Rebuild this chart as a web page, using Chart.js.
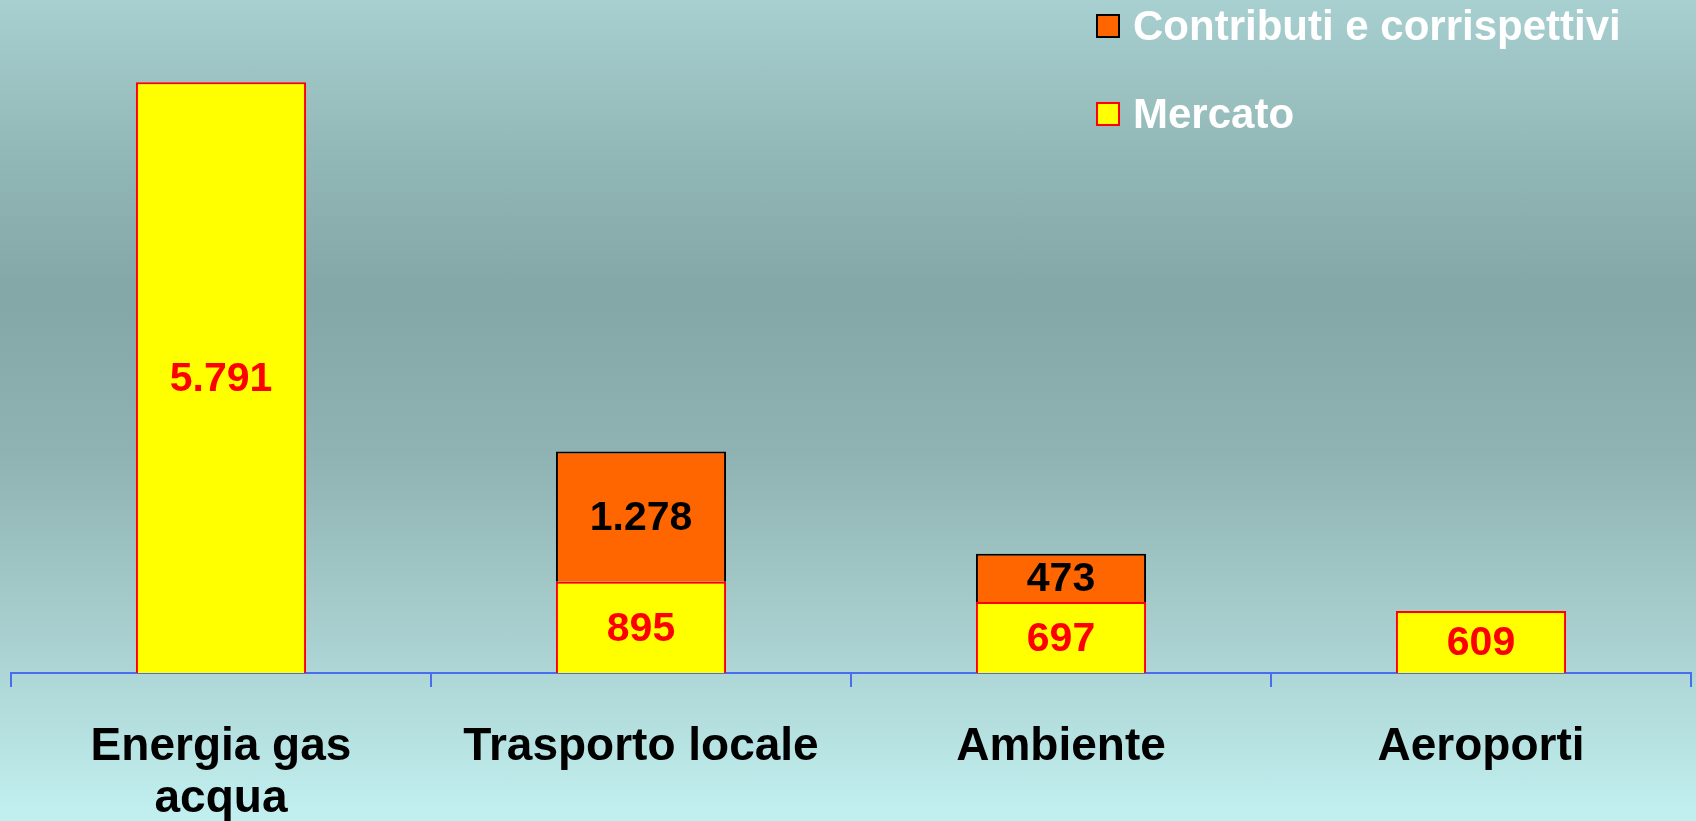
<!DOCTYPE html>
<html>
<head>
<meta charset="utf-8">
<script src="https://cdn.jsdelivr.net/npm/chart.js@4/dist/chart.umd.min.js"></script>
<style>
    html, body { margin: 0; padding: 0; }
    #wrap {
        width: 1696px;
        height: 821px;
        background: linear-gradient(to bottom, #a8d0d0 0%, #93b8b8 18%, #83a6a6 36%, #8fb2b2 55%, #a6cccc 75%, #c2f0f0 100%);
    }
</style>
</head>
<body>
<div id="wrap"><canvas id="settori" width="1696" height="821"></canvas></div>
<script>
// Categorie e valori (milioni)
const categorie = [['Energia gas', 'acqua'], 'Trasporto locale', 'Ambiente', 'Aeroporti'];
const mercato = [5791, 895, 697, 609];
const contributi = [null, 1278, 473, null];

const font = '"Liberation Sans", Arial, sans-serif';

// Format with Italian thousands separator (5.791)
function formatta(v) {
    return String(v).replace(/\B(?=(\d{3})+(?!\d))/g, '.');
}

// Values written inside each bar segment
const etichettePlugin = {
    id: 'etichette',
    afterDatasetsDraw(chart) {
        const ctx = chart.ctx;
        ctx.save();
        ctx.font = 'bold 41px ' + font;
        ctx.textAlign = 'center';
        ctx.textBaseline = 'middle';
        chart.data.datasets.forEach((ds, i) => {
            chart.getDatasetMeta(i).data.forEach((bar, j) => {
                const v = ds.data[j];
                if (v === null) return;
                ctx.fillStyle = ds.labelColor;
                ctx.fillText(formatta(v), bar.x, (bar.y + bar.base) / 2 + 2);
            });
        });
        ctx.restore();
    }
};

// Legend drawn top-right, last dataset first
const legendaPlugin = {
    id: 'legenda',
    afterDraw(chart) {
        const ctx = chart.ctx;
        const items = chart.data.datasets.slice().reverse();
        ctx.save();
        ctx.font = 'bold 42px ' + font;
        ctx.textBaseline = 'middle';
        items.forEach((ds, k) => {
            const y = 26 + k * 88;
            ctx.fillStyle = ds.backgroundColor;
            ctx.fillRect(1097, y - 11, 22, 22);
            ctx.lineWidth = 2;
            ctx.strokeStyle = ds.borderColor;
            ctx.strokeRect(1097, y - 11, 22, 22);
            ctx.fillStyle = '#ffffff';
            ctx.fillText(ds.label, 1133, y + 2);
        });
        ctx.restore();
    }
};

new Chart(document.getElementById('settori').getContext('2d'), {
    type: 'bar',
    data: {
        labels: categorie,
        datasets: [{
            label: 'Mercato',
            data: mercato,
            backgroundColor: '#ffff00',
            borderColor: '#ff0000',
            borderWidth: 2,
            labelColor: '#ff0000'
        }, {
            label: 'Contributi e corrispettivi',
            data: contributi,
            backgroundColor: '#ff6600',
            borderColor: '#000000',
            borderWidth: 2,
            labelColor: '#000000'
        }]
    },
    options: {
        responsive: false,
        animation: false,
        categoryPercentage: 1,
        barPercentage: 0.405,
        layout: { padding: { left: 11, right: 5, top: 61, bottom: -38 } },
        plugins: {
            legend: { display: false },
            tooltip: { enabled: false }
        },
        scales: {
            x: {
                stacked: true,
                border: { color: '#4a6cf0', width: 2 },
                grid: {
                    display: true,
                    offset: true,
                    drawOnChartArea: false,
                    tickLength: 14,
                    color: '#4a6cf0',
                    lineWidth: 2
                },
                ticks: {
                    color: '#000000',
                    padding: 34,
                    autoSkip: false,
                    maxRotation: 0,
                    font: { family: font, size: 46, weight: 'bold', lineHeight: 1.13 }
                }
            },
            y: {
                stacked: true,
                display: false,
                min: 0,
                max: 6000
            }
        }
    },
    plugins: [etichettePlugin, legendaPlugin]
});
</script>
</body>
</html>
